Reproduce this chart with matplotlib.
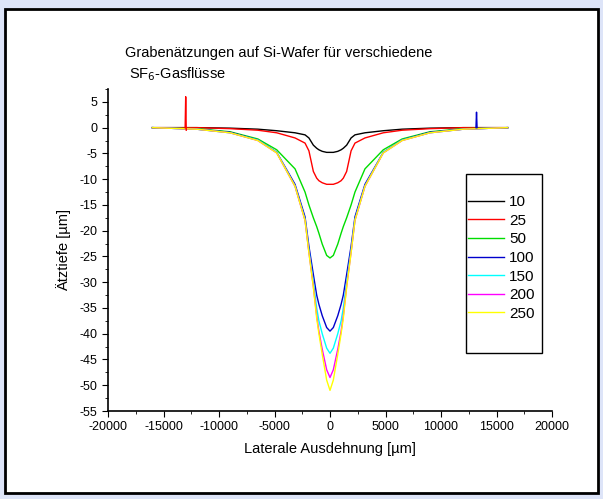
import numpy as np
import matplotlib
matplotlib.use("Agg")
import matplotlib.pyplot as plt
from matplotlib.patches import Rectangle
from matplotlib.ticker import MultipleLocator

plt.rcParams["font.family"] = ["Liberation Sans", "DejaVu Sans"]
plt.rcParams["axes.unicode_minus"] = False

# half profiles (|x| in um), depth in um
xh = [0, 300, 700, 1000, 1200, 1500, 1900, 2250, 3150, 4800, 6500, 9000, 12000, 16000]
d10 = [-4.8, -4.8, -4.6, -4.3, -4.0, -3.4, -2.0, -1.4, -1.0, -0.6, -0.3, -0.1, 0, 0]
d25 = [-11, -11, -10.7, -10.3, -9.8, -8.5, -4.5, -3, -2, -1, -0.5, -0.2, 0, 0]
d50 = [-25.3, -24.8, -22.6, -20.5, -19.2, -17.5, -15, -12.5, -8, -4.3, -2.2, -0.8, -0.2, 0]
d100 = [-39.5, -38.8, -36.5, -34.3, -32.5, -28.5, -23, -17.3, -11, -4.8, -2.4, -0.9, -0.3, 0]
d150 = [-43.8, -42.8, -40, -37.5, -35, -30, -23.8, -17.8, -11.3, -4.8, -2.4, -1, -0.3, 0]
d200 = [-48.5, -47, -43, -39.5, -36.5, -30.8, -24.2, -18, -11.4, -4.9, -2.5, -1, -0.3, 0]
d250 = [-51, -49, -44, -40, -37, -31, -24.3, -18, -11.4, -4.9, -2.5, -1, -0.3, 0]
labels = ["10", "25", "50", "100", "150", "200", "250"]
colors = ["black", "red", "#00dd00", "#0000cc", "cyan", "magenta", "yellow"]
spike25_x, spike25_y = [-13050, -13000, -12950], [0, 6, -0.5]
spike100_x, spike100_y = [13150, 13200, 13250], [0, 3, 0]

fig = plt.figure(figsize=(6.03, 4.99), dpi=100)
fig.patch.set_facecolor("#dde4f8")
fig.patches.append(Rectangle((5 / 603, 6 / 499), 593 / 603, 484 / 499, transform=fig.transFigure,
                             fc="white", ec="black", lw=2, zorder=0))
ax = fig.add_axes([108 / 603, 88 / 499, 444 / 603, 322 / 499])
ax.set_zorder(2)
ax.set_facecolor("none")

for d, lab, c in zip([d10, d25, d50, d100, d150, d200, d250], labels, colors):
    x = np.concatenate([-np.array(xh[:0:-1]), xh])
    y = np.concatenate([d[:0:-1], d])
    ax.plot(x, y, color=c, lw=1, label=lab)
ax.plot(spike25_x, spike25_y, color="red", lw=1)
ax.plot(spike100_x, spike100_y, color="#0000cc", lw=1)

ax.set_xlim(-20000, 20000)
ax.set_ylim(-55, 7.5)
ax.xaxis.set_major_locator(MultipleLocator(5000))
ax.xaxis.set_minor_locator(MultipleLocator(2500))
ax.yaxis.set_major_locator(MultipleLocator(5))
ax.yaxis.set_minor_locator(MultipleLocator(2.5))
ax.spines["top"].set_visible(False)
ax.spines["right"].set_visible(False)
for s in ("left", "bottom"):
    ax.spines[s].set_linewidth(1.2)
ax.tick_params(which="both", direction="out", labelsize=9)
ax.tick_params(which="major", length=4)
ax.tick_params(which="minor", length=2)
ax.set_xlabel("Laterale Ausdehnung [µm]", fontsize=10.5, labelpad=6)
ax.set_ylabel("Ätztiefe [µm]", fontsize=10.5, labelpad=6)
fig.text(125 / 603, 1 - 53 / 499, "Grabenätzungen auf Si-Wafer für verschiedene",
         fontsize=10.5, va="center")
fig.text(129 / 603, 1 - 74 / 499, r"SF$_6$-Gasflüsse", fontsize=10.5, va="center")

ax.add_patch(Rectangle((0.806, 0.180), 0.171, 0.556, transform=ax.transAxes,
                       fill=False, ec="black", lw=1, clip_on=False))
ax.legend(loc="upper left", bbox_to_anchor=(0.81, 0.67), frameon=False,
          fontsize=11, handlelength=2.4, labelspacing=0.3, borderpad=0,
          borderaxespad=0, handletextpad=0.3)
fig.savefig("out.png", dpi=100, facecolor=fig.get_facecolor())
